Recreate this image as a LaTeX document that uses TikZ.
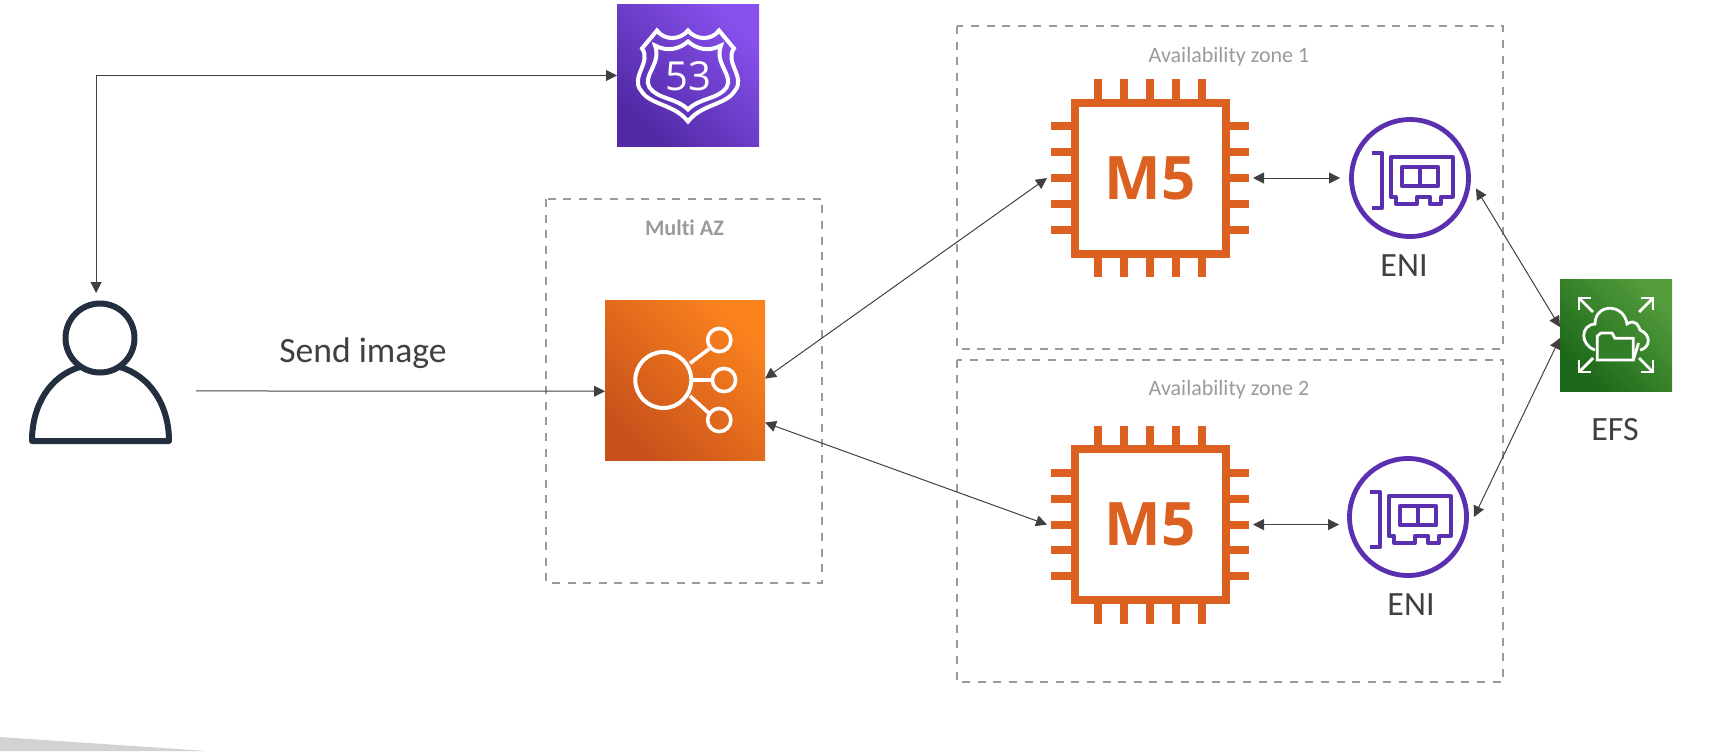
\documentclass[tikz,border=0pt]{standalone}
\usepackage{fontspec}
\usepackage{tikz}
\setmainfont[Ligatures = NoCommon]{Carlito}
\newfontfamily\iconfont{Open Sans}
\usetikzlibrary{arrows.meta}
\definecolor{chipcol}{HTML}{DC6120}
\definecolor{enicol}{HTML}{5A30B0}
\definecolor{usercol}{HTML}{232F3E}
\definecolor{linkcol}{HTML}{404040}
\definecolor{zonecol}{HTML}{9A9A9A}
\definecolor{wedgecol}{HTML}{D2D2D2}
\definecolor{routelow}{HTML}{5029A4}
\definecolor{routehigh}{HTML}{8750EC}
\definecolor{elblow}{HTML}{C8511B}
\definecolor{elbhigh}{HTML}{FB831E}
\definecolor{efslow}{HTML}{1B6618}
\definecolor{efshigh}{HTML}{529C3C}
\definecolor{efsfold}{HTML}{327D28}
\tikzset{tile/.style 2 args = {inner sep = 0, outer sep = 0, minimum size = #1, bottom color = #2low, top color = #2high, shading angle = -45}}
\tikzset{chip/.style = {inner sep = 0, outer sep = 0, minimum size = 103pt, text = chipcol, font = \iconfont\bfseries\fontsize{30}{30}\selectfont}}
\tikzset{card/.style = {inner sep = 0, outer sep = 0, minimum size = 66pt}}
\tikzset{anon/.style = {inner sep = 0, outer sep = 0}}
\tikzset{caption/.style = {inner sep = 0, text = linkcol, font = \fontsize{17}{18}\selectfont}}
\tikzset{zonetext/.style = {inner sep = 0, text = zonecol, font = \fontsize{11}{12}\selectfont}}
\tikzset{zonebox/.style = {draw = zonecol, line width = 1pt, dash pattern = on 4pt off 3.8pt}}
\tikzset{link/.style = {draw = linkcol, line width = 0.5pt, >={Triangle[length = 5.5pt, width = 5.5pt]}, <->}}
\tikzset{glyph/.style = {draw = white, line width = 2pt, line join = round}}
\tikzset{thin glyph/.style = {draw = white, line width = 1.4pt, line join = miter}}

\begin{document}
\begin{tikzpicture}[x = 0.5pt, y = -0.5pt]
  \useasboundingbox (0, 0) rectangle (1724, 751);
  \fill [wedgecol] (0, 737) -- (207, 751) -- (0, 751) -- cycle;

  \draw [zonebox] (546, 199) rectangle (822, 583);
  \draw [zonebox] (957, 26) rectangle (1503, 349);
  \draw [zonebox] (957, 359.5) rectangle (1503, 682);
  \node [zonetext, font = \bfseries\fontsize{11.1}{12}\selectfont] (multilabel) at (684.5, 228) {Multi AZ};
  \node [zonetext] (zonealabel) at (1229, 57) {Availability zone 1};
  \node [zonetext] (zoneblabel) at (1229, 390) {Availability zone 2};

  \node [anon, minimum width = 96pt, minimum height = 74pt] (user) at (100, 367) {};
  \node [tile = {71pt}{route}] (route53) at (688, 75.5) {};
  \node [tile = {80pt}{elb}] (elb) at (685, 380) {};
  \node [tile = {56pt}{efs}] (efs) at (1616, 335) {};
  \node [chip] (mfivea) at (1150, 178) {M5};
  \node [chip] (mfiveb) at (1150, 524.6) {M5};
  \node [card] (enia) at (1410, 178) {};
  \node [card] (enib) at (1408, 517) {};

  \node [caption, font = \fontsize{17.8}{18}\selectfont] (sendlabel) at (363, 353) {Send image};
  \node [caption] (enialabel) at (1404, 266) {ENI};
  \node [caption] (eniblabel) at (1411, 605) {ENI};
  \node [caption] (efslabel) at (1615, 430) {EFS};

  \begin{scope}[line width = 3pt, line join = round]
    \draw [usercol] (100, 338) circle (34.5);
    \draw [usercol] (80, 367) .. controls (50, 376) and (32, 405) .. (32, 441) -- (169, 441) .. controls (169, 405) and (150, 376) .. (120, 367);
  \end{scope}

  \begin{scope}[shift = {(route53)}]
    \draw [thin glyph, line width = 2pt] (-46, -27) -- (-31, -45) .. controls (-24, -35) and (-8, -35) .. (0, -45) .. controls (8, -35) and (24, -35) .. (31, -45) -- (46, -27) .. controls (36, -14) and (58, 2) .. (47, 15) .. controls (38, 30) and (14, 28) .. (0, 46) .. controls (-14, 28) and (-38, 30) .. (-47, 15) .. controls (-58, 2) and (-36, -14) .. (-46, -27) -- cycle;
    \draw [thin glyph, line width = 2pt] (-33, -30) .. controls (-20, -23) and (-8, -27) .. (0, -34) .. controls (8, -27) and (20, -23) .. (33, -30) .. controls (26, -12) and (46, 0) .. (38.5, 12) .. controls (30, 24) and (12, 22) .. (0, 34) .. controls (-12, 22) and (-30, 24) .. (-38.5, 12) .. controls (-46, 0) and (-26, -12) .. (-33, -30) -- cycle;
    \node [anon, text = white, font = \iconfont\fontsize{20}{20}\selectfont] (routenum) at (0, 1) {53};
  \end{scope}

  \begin{scope}[shift = {(elb)}]
    \draw [glyph] (-21.7, 0) circle (28);
    \draw [glyph, line width = 1.8pt] (34.3, -40) circle (11.6);
    \draw [glyph, line width = 1.8pt] (39, 0) circle (11.6);
    \draw [glyph, line width = 1.8pt] (34.3, 40) circle (11.6);
    \draw [glyph, line width = 1.8pt] (5, -16.7) -- (24, -31);
    \draw [glyph, line width = 1.8pt] (8, 0) -- (27.4, 0);
    \draw [glyph, line width = 1.8pt] (5, 16) -- (24, 33.3);
  \end{scope}

  \begin{scope}[shift = {(efs)}]
    \foreach \sx/\sy in {-1/-1, 1/-1, -1/1, 1/1} {
      \draw [thin glyph] (\sx * 23, \sy * 23) -- (\sx * 37, \sy * 37);
      \draw [thin glyph] (\sx * 37, \sy * 25) -- (\sx * 37, \sy * 37) -- (\sx * 25, \sy * 37);
    }
    \draw [thin glyph] (-21, 15) .. controls (-36, 10) and (-36, -10) .. (-21, -11) .. controls (-21, -32) and (8, -32) .. (11, -11) .. controls (20, -17) and (23, -8) .. (24, -5) .. controls (36, 0) and (34, 13) .. (24, 15);
    \draw [thin glyph, fill = efsfold] (-18.7, 25) -- (-18.7, 1) -- (-15, -2) -- (-4, -2) -- (-1, 3.3) -- (17.3, 3.3) -- (17.3, 25) -- cycle;
    \draw [thin glyph] (17.3, 25) -- (22.5, 8);
  \end{scope}

  \foreach \n in {mfivea, mfiveb} {
    \begin{scope}[shift = {(\n)}]
      \draw [chipcol, line width = 4pt] (-75.5, -75.5) rectangle (75.5, 75.5);
      \foreach \p in {-51.6, -25.8, 0, 25.8, 51.6} {
        \draw [chipcol, line width = 4pt] (\p, -77) -- (\p, -99);
        \draw [chipcol, line width = 4pt] (\p, 77) -- (\p, 99);
        \draw [chipcol, line width = 4pt] (-77, \p) -- (-99, \p);
        \draw [chipcol, line width = 4pt] (77, \p) -- (99, \p);
      }
    \end{scope}
  }

  \foreach \n in {enia, enib} {
    \begin{scope}[shift = {(\n)}, enicol, line width = 2pt, line join = round]
      \draw [line width = 2.4pt] (0, 0) circle (58.5);
      \draw (-37.7, -25.3) -- (-28.3, -25.3) -- (-28.3, 30.3) -- (-37.7, 30.3);
      \draw (-19.5, -20.7) -- (42.7, -20.7) -- (42.7, 18.7) -- (31, 18.7) -- (31, 26) -- (20, 26) -- (20, 18.7) -- (7, 18.7) -- (7, 26) -- (-14, 26) -- (-14, 18.7) -- (-19.5, 18.7) -- cycle;
      \draw (-8.3, -10.7) rectangle (28.3, 8);
      \draw (10, -10.7) -- (10, 8);
    \end{scope}
  }

  \draw [link] (route53.west) -| (user.93);
  \draw [link, <-] (elb.188.3) -- (user.-14);
  \draw [link] (elb.1) -- (mfivea.west);
  \draw [link] (elb.-28) -- (mfiveb.west);
  \draw [link, shorten >= 2pt] (mfivea.east) -- (enia.west);
  \draw [link, shorten >= 1.5pt] (mfiveb.east) -- (enib.west |- mfiveb.east);
  \draw [link] (enia.-9.5) -- (efs.172.9);
  \draw [link] (enib.east) -- (efs.183);
\end{tikzpicture}
\end{document}
